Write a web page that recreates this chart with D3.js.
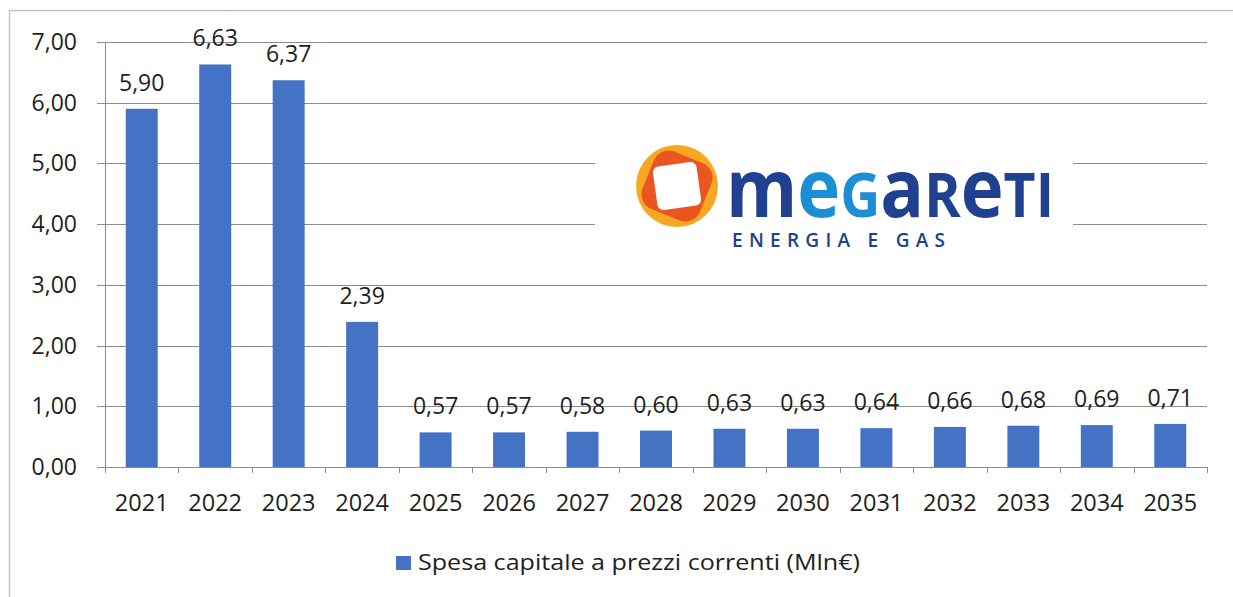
<!DOCTYPE html>
<html><head><meta charset="utf-8">
<script src="https://cdn.jsdelivr.net/npm/d3@7"></script>
<style>html,body{margin:0;padding:0;background:#fff;}svg{display:block;}</style>
</head><body>
<svg id="c" width="1233" height="597"></svg>
<script>
const years = ["2021","2022","2023","2024","2025","2026","2027","2028","2029","2030","2031","2032","2033","2034","2035"];
const values = [5.90,6.63,6.37,2.39,0.57,0.57,0.58,0.60,0.63,0.63,0.64,0.66,0.68,0.69,0.71];
const yTicks = [0,1,2,3,4,5,6,7];
const seriesName = "Spesa capitale a prezzi correnti (Mln€)";

(function(){
const svg = d3.select("#c");
const FONT = "'Open Sans', sans-serif";
const pLeft = 105, pRight = 1207, pTop = 42, pBottom = 467;
const fmt = v => d3.format(".2f")(v).replace(".", ",");
const TXT = "#1e1e1e";

// outer frame
svg.append("path").attr("d","M9.5,597 V10.5 H1233").attr("fill","none").attr("stroke","#c4c4c4").attr("stroke-width",1.5);

const x = d3.scaleBand().domain(years).range([pLeft, pRight]).paddingInner(0.565).paddingOuter(0.2825);
const y = d3.scaleLinear().domain([0,7]).range([pBottom, pTop]);

// gridlines
svg.append("g").selectAll("line").data(yTicks.filter(d=>d>0)).join("line")
  .attr("x1", pLeft-8).attr("x2", pRight)
  .attr("y1", d=>Math.round(y(d))+0.5).attr("y2", d=>Math.round(y(d))+0.5)
  .attr("stroke","#8c8c8c").attr("stroke-width",1);

// logo
const logo = svg.append("g");
logo.append("rect").attr("x",595).attr("y",118).attr("width",478).attr("height",144).attr("fill","#fff");
const ic = logo.append("g").attr("transform","translate(677,186)");
ic.append("circle").attr("r",41).attr("fill","#f7a823");
ic.append("rect").attr("x",-31).attr("y",-31).attr("width",62).attr("height",62).attr("rx",16)
  .attr("fill","#ea5520").attr("transform","rotate(22)");
ic.append("rect").attr("x",-22).attr("y",-22).attr("width",44).attr("height",44).attr("rx",6)
  .attr("fill","#fff").attr("transform","rotate(-8)");
const letters = [
  {t:"m",c:"#20418f",low:true},
  {t:"e",c:"#1c8fd4",low:true},
  {t:"G",c:"#1c8fd4",low:false},
  {t:"a",c:"#20418f",low:true},
  {t:"R",c:"#20418f",low:false},
  {t:"e",c:"#20418f",low:true},
  {t:"T",c:"#20418f",low:false},
  {t:"I",c:"#20418f",low:false}
];
const lt = logo.append("text").attr("x",726).attr("y",217)
  .attr("font-family",FONT).attr("font-weight",700)
  .attr("textLength",328).attr("lengthAdjust","spacingAndGlyphs");
lt.selectAll("tspan").data(letters).join("tspan")
  .attr("font-size",d=>d.low?80:61).attr("fill",d=>d.c).text(d=>d.t);
logo.append("text").attr("x",732).attr("y",247).attr("font-family",FONT).attr("font-size",19)
  .attr("font-weight",600).attr("fill","#20418f")
  .attr("textLength",213).attr("lengthAdjust","spacing").text("ENERGIA E GAS");

// bars
svg.append("g").selectAll("rect").data(values).join("rect")
  .attr("x",(d,i)=>x(years[i])).attr("width",x.bandwidth())
  .attr("y",d=>y(d)).attr("height",d=>y(0)-y(d))
  .attr("fill","#4472c4");

// axes lines
svg.append("line").attr("x1",pLeft+0.5).attr("x2",pLeft+0.5).attr("y1",pTop).attr("y2",pBottom+1).attr("stroke","#8c8c8c");
svg.append("line").attr("x1",pLeft-8).attr("x2",pRight).attr("y1",pBottom+0.5).attr("y2",pBottom+0.5).attr("stroke","#8c8c8c");
// x tick marks
const step = x.step();
svg.append("g").selectAll("line").data(d3.range(years.length+1)).join("line")
  .attr("x1",i=>Math.round(pLeft+i*step)+0.5).attr("x2",i=>Math.round(pLeft+i*step)+0.5)
  .attr("y1",pBottom).attr("y2",pBottom+6).attr("stroke","#8c8c8c");

// y labels
svg.append("g").selectAll("text").data(yTicks).join("text")
  .attr("x",77).attr("y",d=>y(d)+8).attr("text-anchor","end")
  .attr("font-family",FONT).attr("font-size",23).attr("fill",TXT).text(d=>fmt(d));

// x labels
svg.append("g").selectAll("text").data(years).join("text")
  .attr("x",d=>x(d)+x.bandwidth()/2).attr("y",511).attr("text-anchor","middle")
  .attr("font-family",FONT).attr("font-size",23.5).attr("fill",TXT).text(d=>d);

// data labels
svg.append("g").selectAll("text").data(values).join("text")
  .attr("x",(d,i)=>x(years[i])+x.bandwidth()/2).attr("y",d=>y(d)-18).attr("text-anchor","middle")
  .attr("font-family",FONT).attr("font-size",23).attr("fill",TXT).text(d=>fmt(d));

// legend
svg.append("rect").attr("x",396).attr("y",556).attr("width",15).attr("height",14).attr("fill","#4472c4");
svg.append("text").attr("x",418).attr("y",570).attr("font-family",FONT).attr("font-size",22).attr("fill",TXT)
  .attr("textLength",442).attr("lengthAdjust","spacingAndGlyphs").text(seriesName);
})();
</script>
</body></html>
